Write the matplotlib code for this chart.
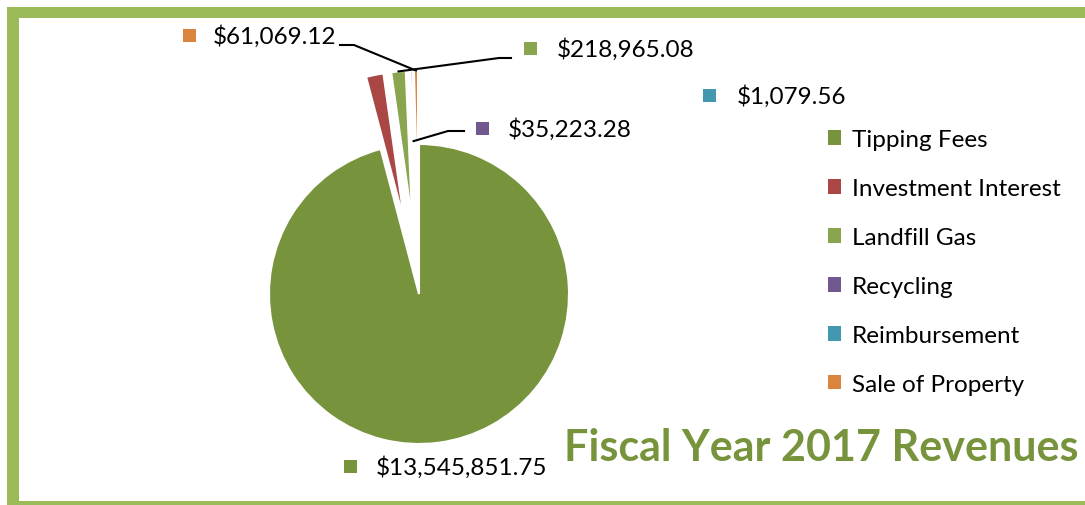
import numpy as np
import matplotlib
matplotlib.use("Agg")
import matplotlib.pyplot as plt
from matplotlib.patches import Rectangle, Patch

# Data
categories = ["Tipping Fees", "Investment Interest", "Landfill Gas",
              "Recycling", "Reimbursement", "Sale of Property"]
revenues = [13545851.75, 265000.00, 218965.08, 35223.28, 1079.56, 61069.12]
colors = ["#77933C", "#AA4643", "#89A54E", "#71588F", "#4198AF", "#DB843D"]
explode_frac = [0.0, 0.49, 0.49, 0.49, 0.49, 0.49]
title = "Fiscal Year 2017 Revenues"

W, H = 1085, 506
FONT = "Lato"
TXT = 17.5
R = 150
FRAME = "#9BBB59"


def py(y):
    """Pixel row (from top) to data y."""
    return H - y


fig = plt.figure(figsize=(W / 100, H / 100), dpi=100)
ax = fig.add_axes([0, 0, 1, 1])

# pie explode is in data units, so scale by the radius
wedges, _ = ax.pie(revenues, colors=colors, explode=[e * R for e in explode_frac],
                   startangle=90, counterclock=False, center=(419, py(295)), radius=R,
                   wedgeprops=dict(edgecolor="white", linewidth=1.5), frame=True)

ax.set_xlim(0, W)
ax.set_ylim(0, H)
ax.set_aspect("equal")
ax.axis("off")

# outer green frame (right side runs off the picture)
for x0, y0, x1, y1 in [(7, 8, 19, 506), (7, 8, W, 19), (7, 502, W, 506)]:
    ax.add_patch(Rectangle((x0, py(y1)), x1 - x0, y1 - y0, color=FRAME, lw=0,
                           clip_on=False))


def anchor(i, frac):
    w = wedges[i]
    mid = np.deg2rad((w.theta1 + w.theta2) / 2)
    cx, cy = w.center
    return cx + w.r * frac * np.cos(mid), cy + w.r * frac * np.sin(mid)


# data labels: (index, square x, text x, centre y, leader path or None, anchor frac)
labels = [
    (0, 344, 376, 468, None, None),
    (2, 524, 557, 50, [(511, 59), (499, 59)], 1.0),
    (3, 476, 508, 130, [(464, 132), (448, 132)], 0.53),
    (4, 703, 737, 97, None, None),
    (5, 183, 213, 37, [(340, 46), (354, 46)], 1.0),
]
for i, sx, tx, ty, path, frac in labels:
    ax.add_patch(Rectangle((sx, py(ty + 6)), 13, 13, color=colors[i], lw=0))
    ax.text(tx, py(ty), f"${revenues[i]:,.2f}", fontsize=TXT, family=FONT,
            va="center", ha="left", color="black")
    if path is not None:
        ax_, ay_ = anchor(i, frac)
        xs = [p[0] for p in path] + [ax_]
        ys = [py(p[1]) for p in path] + [ay_]
        ax.plot(xs, ys, color="black", lw=1.5, solid_joinstyle="miter")

handles = [Patch(facecolor=c, edgecolor="none") for c in colors]
ax.legend(handles, categories, loc="upper left", bbox_to_anchor=(828, py(130)),
          bbox_transform=ax.transData, frameon=False,
          prop=dict(family=FONT, size=TXT), handlelength=0.55, handleheight=0.55,
          handletextpad=0.42, labelspacing=1.15, borderpad=0, borderaxespad=0)

ax.text(1078, py(448), title, fontsize=31, family=FONT, fontweight="bold",
        color="#77933C", ha="right", va="center")

fig.savefig("out.png", dpi=100)
